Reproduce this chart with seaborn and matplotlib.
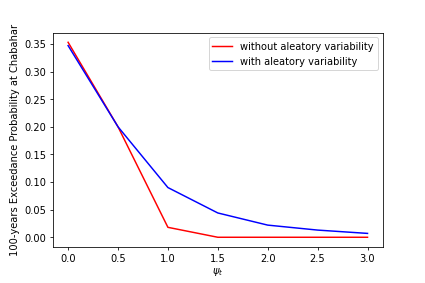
import pandas as pd
import seaborn as sns
import matplotlib
matplotlib.use('Agg')
import matplotlib.pyplot as plt

# Data
psi_t = [0.0, 0.5, 1.0, 1.5, 2.0, 2.5, 3.0]
without_var = [0.353, 0.200, 0.018, 0.0, 0.0, 0.0, 0.0]
with_var = [0.347, 0.200, 0.090, 0.044, 0.022, 0.013, 0.007]

df = pd.DataFrame({
    'psi': psi_t * 2,
    'prob': without_var + with_var,
    'case': ['without aleatory variability'] * len(psi_t) + ['with aleatory variability'] * len(psi_t),
})

fig, ax = plt.subplots(figsize=(6, 4), dpi=425 / 6)
fig.subplots_adjust(left=0.125, right=0.9, top=0.884, bottom=0.127)

sns.lineplot(data=df, x='psi', y='prob', hue='case',
             palette={'without aleatory variability': 'red', 'with aleatory variability': 'blue'},
             ax=ax)

ax.set_xlabel(r'$\psi_t$', labelpad=2)
ax.set_ylabel('100-years Exceedance Probability at Chabahar')
ax.legend(loc='upper right')

fig.savefig('out.png')
